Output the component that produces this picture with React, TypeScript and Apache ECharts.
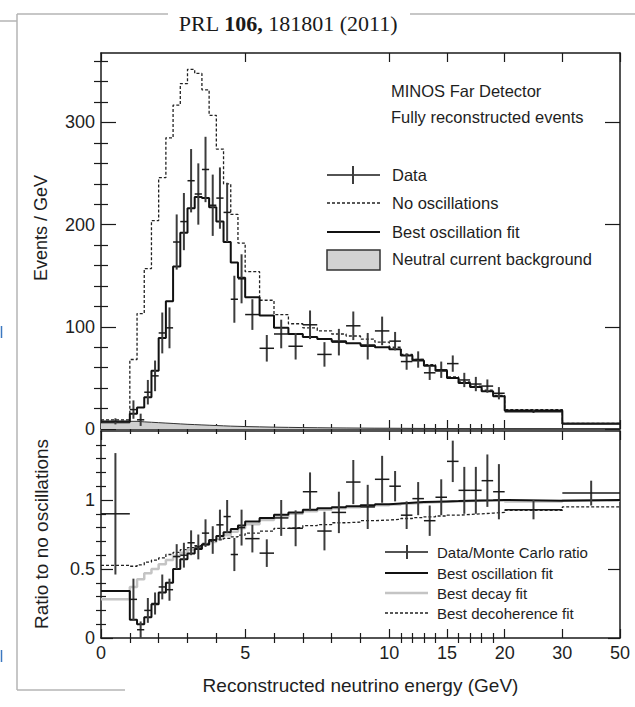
import React, { useEffect, useRef } from 'react';
import * as echarts from 'echarts';

// ---------- data ----------
const binEdgesGeV = [0, 1, 1.25, 1.5, 1.75, 2, 2.25, 2.5, 2.75, 3, 3.25, 3.5, 3.75, 4, 4.25, 4.5, 4.75, 5,
  5.5, 6, 6.5, 7, 7.5, 8, 8.5, 9, 9.5, 10, 11, 12, 13, 14, 15, 16, 17, 18, 19, 20, 30, 50];

// upper panel (Events / GeV)
const noOscillations = [9, 68, 113, 157, 204, 246, 285, 317, 338, 352, 348, 332, 307, 274, 240, 210, 182,
  154, 126, 112, 103, 99, 96, 93, 91, 88, 85, 80, 73, 68, 63, 58, 51, 46, 42, 38, 33, 19, 5.5];
const bestOscillationFit = [7, 15, 21, 31, 57, 89, 125, 159, 192, 216, 227, 226, 217, 203, 183, 163, 148,
  129, 111, 99, 93, 90, 88, 86, 84, 82, 80, 78, 72, 67, 62, 57, 50, 45, 41, 37, 32, 18, 5.2];
const neutralCurrentBackground = [6, 7.5, 7, 6.6, 6.2, 5.8, 5.4, 5, 4.6, 4.3, 4, 3.7, 3.4, 3.1, 2.8, 2.6, 2.4,
  2.1, 1.8, 1.6, 1.4, 1.25, 1.1, 1, 0.9, 0.8, 0.75, 0.7, 0.6, 0.55, 0.5, 0.45, 0.4, 0.38, 0.35, 0.32, 0.3, 0.2, 0.1];
const dataEventsPerGeV = [7.5, 19, 9, 36, 52, 94, 99, 183, 203, 243, 230, 254, 219, 226, 212, 127, 147,
  112, 79, 93, 81, 102, 73, 85, 101, 81, 96, 86, 66, 68, 55, 58, 64, 48, 44, 42, 35, 17, 5.3];
const dataErrors = [3, 9, 6, 12, 15, 20, 20, 27, 28, 31, 30, 32, 30, 30, 29, 23, 24,
  15, 13, 14, 13, 14, 12, 13, 14, 13, 14, 9, 8, 8, 7, 8, 8, 7, 7, 6.5, 6, 1.3, 0.5];

// lower panel (ratio to no oscillations)
const ratioData = [0.9, 0.28, 0.06, 0.2, 0.25, 0.37, 0.35, 0.59, 0.6, 0.69, 0.66, 0.76, 0.71, 0.82, 0.88, 0.605, 0.8,
  0.72, 0.615, 0.87, 0.795, 1.06, 0.775, 0.91, 1.13, 0.95, 1.15, 1.1, 0.89, 1.01, 0.85, 1.02, 1.28, 1.07, 1.07, 1.14, 1.06, 0.93, 1.05];
const ratioErrors = [0.44, 0.15, 0.06, 0.09, 0.08, 0.09, 0.08, 0.09, 0.09, 0.09, 0.09, 0.1, 0.1, 0.11, 0.12, 0.12, 0.13,
  0.1, 0.1, 0.13, 0.13, 0.14, 0.14, 0.15, 0.16, 0.16, 0.17, 0.11, 0.1, 0.12, 0.11, 0.13, 0.15, 0.17, 0.17, 0.19, 0.2, 0.07, 0.09];
const ratioOscillationFit = [0.34, 0.133, 0.1, 0.15, 0.245, 0.33, 0.4, 0.5, 0.57, 0.613, 0.645, 0.678, 0.71, 0.74, 0.766, 0.79, 0.815,
  0.845, 0.87, 0.893, 0.91, 0.93, 0.94, 0.948, 0.955, 0.962, 0.97, 0.975, 0.98, 0.985, 0.988, 0.99, 0.992, 0.995, 0.997, 0.998, 1.0, 0.995, 1.0];
const ratioDecayFit = [0.28, 0.37, 0.425, 0.47, 0.5, 0.535, 0.565, 0.594, 0.618, 0.637, 0.654, 0.675, 0.695, 0.72, 0.745, 0.77, 0.795,
  0.825, 0.855, 0.88, 0.9, 0.918, 0.93, 0.94, 0.948, 0.955, 0.962, 0.968, 0.975, 0.98, 0.984, 0.987, 0.99, 0.992, 0.994, 0.996, 0.998, 0.99, 0.998];
const ratioDecoherenceFit = [0.526, 0.52, 0.53, 0.55, 0.565, 0.58, 0.605, 0.62, 0.64, 0.655, 0.67, 0.685, 0.7, 0.712, 0.722, 0.733, 0.745,
  0.76, 0.775, 0.795, 0.8, 0.815, 0.822, 0.835, 0.84, 0.85, 0.855, 0.86, 0.866, 0.872, 0.878, 0.884, 0.89, 0.895, 0.9, 0.905, 0.91, 0.925, 0.95];

// ticks
const xMajorTicksGeV = [0, 5, 10, 15, 20, 30, 50];
const xMinorTicksGeV = [1, 2, 3, 4, 6, 7, 8, 9, 11, 12, 13, 14, 16, 17, 18, 19];
const yTopMajor = [0, 100, 200, 300];
const yTopMinor = [20, 40, 60, 80, 120, 140, 160, 180, 220, 240, 260, 280, 320, 340, 360];
const yBottomMajor = [0, 0.5, 1];
const yBottomMinor = [0.1, 0.2, 0.3, 0.4, 0.6, 0.7, 0.8, 0.9, 1.1, 1.2, 1.3, 1.4];

// piecewise display scale of the energy axis: [E from, E to, u from, u to]
const energySegments = [[0, 10, 0, 10], [10, 20, 10, 14], [20, 30, 14, 16], [30, 50, 16, 18]];
function toU(e: number): number {
  for (const [e0, e1, u0, u1] of energySegments) {
    if (e <= e1) return u0 + ((e - e0) / (e1 - e0)) * (u1 - u0);
  }
  return 18;
}

const SANS = "'Liberation Sans', Arial, Helvetica, sans-serif";
const SERIF = "'Liberation Serif', 'Times New Roman', serif";
const INK = '#1e1e1e';
const AX = '#1a1a1a';

function stepData(values: number[]) {
  const pts = values.map((v, i) => [toU(binEdgesGeV[i]), v]);
  pts.push([toU(binEdgesGeV[values.length]), values[values.length - 1]]);
  return pts;
}
function errData(values: number[], errs: number[]) {
  return values.map((v, i) => {
    const uL = toU(binEdgesGeV[i]);
    const uR = toU(binEdgesGeV[i + 1]);
    return [(uL + uR) / 2, v, errs[i], uL, uR];
  });
}
const renderErr = (params: any, api: any) => {
  const xc = api.value(0), y = api.value(1), e = api.value(2), xl = api.value(3), xh = api.value(4);
  const top = api.coord([xc, y + e]);
  const bot = api.coord([xc, y - e]);
  const l = api.coord([xl, y]);
  const r = api.coord([xh, y]);
  return {
    type: 'group',
    children: [
      { type: 'line', shape: { x1: top[0], y1: top[1], x2: bot[0], y2: bot[1] }, style: { stroke: '#3c3c3c', lineWidth: 2 } },
      { type: 'line', shape: { x1: l[0], y1: l[1], x2: r[0], y2: r[1] }, style: { stroke: '#1a1a1a', lineWidth: 1.5 } },
    ],
  };
};

const xMajorU = xMajorTicksGeV.map(toU);
const xMinorU = xMinorTicksGeV.map(toU);
const xLabelFmt = (v: number) => {
  const i = xMajorU.findIndex((u) => Math.abs(u - v) < 1e-6);
  return i >= 0 ? String(xMajorTicksGeV[i]) : '';
};

function xAxes(grid: number, withLabels: boolean) {
  const base: any = { gridIndex: grid, type: 'value', min: 0, max: 18, splitLine: { show: false }, splitArea: { show: false } };
  const line = { show: true, onZero: false, lineStyle: { color: AX, width: 1.5 } };
  const tick = (vals: number[], len: number) => ({ show: true, inside: true, length: len, customValues: vals, lineStyle: { color: AX, width: 1.2 } });
  const bottomMajor: any = {
    ...base, position: 'bottom', axisLine: line, axisTick: tick(xMajorU, 9),
    axisLabel: withLabels
      ? { show: true, customValues: xMajorU, formatter: xLabelFmt, margin: 6, color: INK, fontSize: 18, fontFamily: SANS }
      : { show: false },
  };
  if (withLabels) {
    bottomMajor.name = 'Reconstructed neutrino energy (GeV)';
    bottomMajor.nameLocation = 'middle';
    bottomMajor.nameGap = 38;
    bottomMajor.nameTextStyle = { color: INK, fontSize: 19, fontFamily: SANS };
  }
  return [
    bottomMajor,
    { ...base, position: 'bottom', axisLine: { show: false }, axisTick: tick(xMinorU, 5), axisLabel: { show: false } },
    { ...base, position: 'top', axisLine: line, axisTick: tick(xMajorU, 9), axisLabel: { show: false } },
    { ...base, position: 'top', axisLine: { show: false }, axisTick: tick(xMinorU, 5), axisLabel: { show: false } },
  ];
}

function yAxes(grid: number, max: number, major: number[], minor: number[], majorLen: number, minorLen: number) {
  const base: any = { gridIndex: grid, type: 'value', min: 0, max, splitLine: { show: false }, splitArea: { show: false } };
  const line = { show: true, onZero: false, lineStyle: { color: AX, width: 1.5 } };
  const tick = (vals: number[], len: number) => ({ show: true, inside: true, length: len, customValues: vals, lineStyle: { color: AX, width: 1.2 } });
  return [
    {
      ...base, position: 'left', axisLine: line, axisTick: tick(major, majorLen),
      axisLabel: { show: true, customValues: major, margin: 6, color: INK, fontSize: 18, fontFamily: SANS },
    },
    { ...base, position: 'left', axisLine: { show: false }, axisTick: tick(minor, minorLen), axisLabel: { show: false } },
    { ...base, position: 'right', axisLine: line, axisTick: tick(major, majorLen), axisLabel: { show: false } },
    { ...base, position: 'right', axisLine: { show: false }, axisTick: tick(minor, minorLen), axisLabel: { show: false } },
  ];
}

function txt(x: number, y: number, text: string, size: number, extra: any = {}) {
  return {
    type: 'text', x, y, silent: true, ...extra,
    style: {
      text, fill: INK, font: `${size}px ${SANS}`,
      textAlign: 'left', textVerticalAlign: 'middle', align: 'left', verticalAlign: 'middle',
      ...(extra.style || {}),
    },
  };
}
function seg(x1: number, y1: number, x2: number, y2: number, style: any) {
  return { type: 'line', silent: true, shape: { x1, y1, x2, y2 }, style };
}

function buildOption(): any {
  const dotted = { color: '#222', width: 1.3, type: [3, 2] };
  const graphic: any[] = [
    // page decorations
    seg(0, 21, 17, 21, { stroke: '#b5b5b5', lineWidth: 1.5 }),
    seg(17, 14, 17, 690, { stroke: '#b5b5b5', lineWidth: 1.5 }),
    seg(17, 14, 168, 14, { stroke: '#b5b5b5', lineWidth: 1.5 }),
    seg(410, 14, 635, 14, { stroke: '#b5b5b5', lineWidth: 1.5 }),
    seg(17, 690, 125, 690, { stroke: '#b5b5b5', lineWidth: 1.5 }),
    seg(1.5, 326, 1.5, 338, { stroke: '#3c78c0', lineWidth: 1.5 }),
    seg(1.5, 650, 1.5, 662, { stroke: '#3c78c0', lineWidth: 1.5 }),
    {
      type: 'text', x: 288, y: 23, silent: true,
      style: {
        text: '{n|PRL }{b|106,}{n| 181801 (2011)}',
        textAlign: 'center', textVerticalAlign: 'middle', align: 'center', verticalAlign: 'middle',
        rich: {
          n: { font: `22px ${SERIF}`, fill: '#1a1a1a' },
          b: { font: `bold 22px ${SERIF}`, fill: '#1a1a1a' },
        },
      },
    },
    // axis titles
    txt(41, 228, 'Events / GeV', 18, { rotation: Math.PI / 2, style: { textAlign: 'center', align: 'center' } }),
    txt(41, 534, 'Ratio to no oscillations', 19, { rotation: Math.PI / 2, style: { textAlign: 'center', align: 'center' } }),
    // upper legend
    txt(391, 91, 'MINOS Far Detector', 16.5),
    txt(391, 117, 'Fully reconstructed events', 16.5),
    seg(327, 175, 380, 175, { stroke: '#1a1a1a', lineWidth: 1.5 }),
    seg(353, 166, 353, 184, { stroke: '#3c3c3c', lineWidth: 2 }),
    txt(392, 175, 'Data', 16.5),
    seg(327, 203, 380, 203, { stroke: '#222', lineWidth: 1.3, lineDash: [3, 2] }),
    txt(392, 203, 'No oscillations', 16.5),
    seg(327, 232, 380, 232, { stroke: '#111', lineWidth: 2 }),
    txt(392, 232, 'Best oscillation fit', 16.5),
    { type: 'rect', silent: true, shape: { x: 327, y: 250, width: 53, height: 20 }, style: { fill: '#d2d2d2', stroke: '#333', lineWidth: 1.5 } },
    txt(392, 259, 'Neutral current background', 16.5),
    // lower legend
    seg(385, 552, 428, 552, { stroke: '#1a1a1a', lineWidth: 1.5 }),
    seg(407, 545, 407, 559, { stroke: '#3c3c3c', lineWidth: 2 }),
    txt(437, 552, 'Data/Monte Carlo ratio', 15),
    seg(385, 573, 428, 573, { stroke: '#111', lineWidth: 2 }),
    txt(437, 573, 'Best oscillation fit', 15),
    seg(385, 593, 428, 593, { stroke: '#c4c4c4', lineWidth: 2.5 }),
    txt(437, 593, 'Best decay fit', 15),
    seg(385, 613, 428, 613, { stroke: '#222', lineWidth: 1.3, lineDash: [3, 2] }),
    txt(437, 613, 'Best decoherence fit', 15),
  ];

  return {
    animation: false,
    backgroundColor: '#ffffff',
    textStyle: { fontFamily: SANS },
    grid: [
      { left: 101, top: 53, width: 519, height: 376, containLabel: false, outerBoundsMode: 'none' },
      { left: 101, top: 431, width: 519, height: 207, containLabel: false, outerBoundsMode: 'none' },
    ],
    xAxis: [...xAxes(0, false), ...xAxes(1, true)],
    yAxis: [...yAxes(0, 368, yTopMajor, yTopMinor, 15, 7), ...yAxes(1, 1.5, yBottomMajor, yBottomMinor, 12, 5)],
    series: [
      {
        type: 'line', name: 'Neutral current background', xAxisIndex: 0, yAxisIndex: 0, step: 'end',
        data: stepData(neutralCurrentBackground), symbol: 'none', z: 2,
        lineStyle: { color: '#333', width: 1 }, areaStyle: { color: '#cfcfcf', opacity: 1 },
      },
      {
        type: 'line', name: 'No oscillations', xAxisIndex: 0, yAxisIndex: 0, step: 'end',
        data: stepData(noOscillations), symbol: 'none', z: 3, lineStyle: dotted,
      },
      {
        type: 'line', name: 'Best oscillation fit', xAxisIndex: 0, yAxisIndex: 0, step: 'end',
        data: stepData(bestOscillationFit), symbol: 'none', z: 4, lineStyle: { color: '#111', width: 2 },
      },
      {
        type: 'custom', name: 'Data', xAxisIndex: 0, yAxisIndex: 0, clip: true, z: 5,
        data: errData(dataEventsPerGeV, dataErrors), encode: { x: 0, y: 1 }, renderItem: renderErr,
      },
      {
        type: 'line', name: 'Best decay fit', xAxisIndex: 4, yAxisIndex: 4, step: 'end',
        data: stepData(ratioDecayFit), symbol: 'none', z: 2, lineStyle: { color: '#c4c4c4', width: 2.5 },
      },
      {
        type: 'line', name: 'Best decoherence fit', xAxisIndex: 4, yAxisIndex: 4, step: 'end',
        data: stepData(ratioDecoherenceFit), symbol: 'none', z: 3, lineStyle: dotted,
      },
      {
        type: 'line', name: 'Best oscillation fit (ratio)', xAxisIndex: 4, yAxisIndex: 4, step: 'end',
        data: stepData(ratioOscillationFit), symbol: 'none', z: 4, lineStyle: { color: '#111', width: 2 },
      },
      {
        type: 'custom', name: 'Data/Monte Carlo ratio', xAxisIndex: 4, yAxisIndex: 4, clip: true, z: 5,
        data: errData(ratioData, ratioErrors), encode: { x: 0, y: 1 }, renderItem: renderErr,
      },
    ],
    graphic,
  };
}

export default function App() {
  const ref = useRef<HTMLDivElement>(null);
  useEffect(() => {
    if (!ref.current) return;
    const chart = echarts.init(ref.current, null, { renderer: 'svg' });
    chart.setOption(buildOption());
    return () => chart.dispose();
  }, []);
  return (
    <div
      ref={ref}
      style={{ position: 'absolute', left: 0, top: 0, width: 635, height: 707, background: '#ffffff' }}
    />
  );
}
